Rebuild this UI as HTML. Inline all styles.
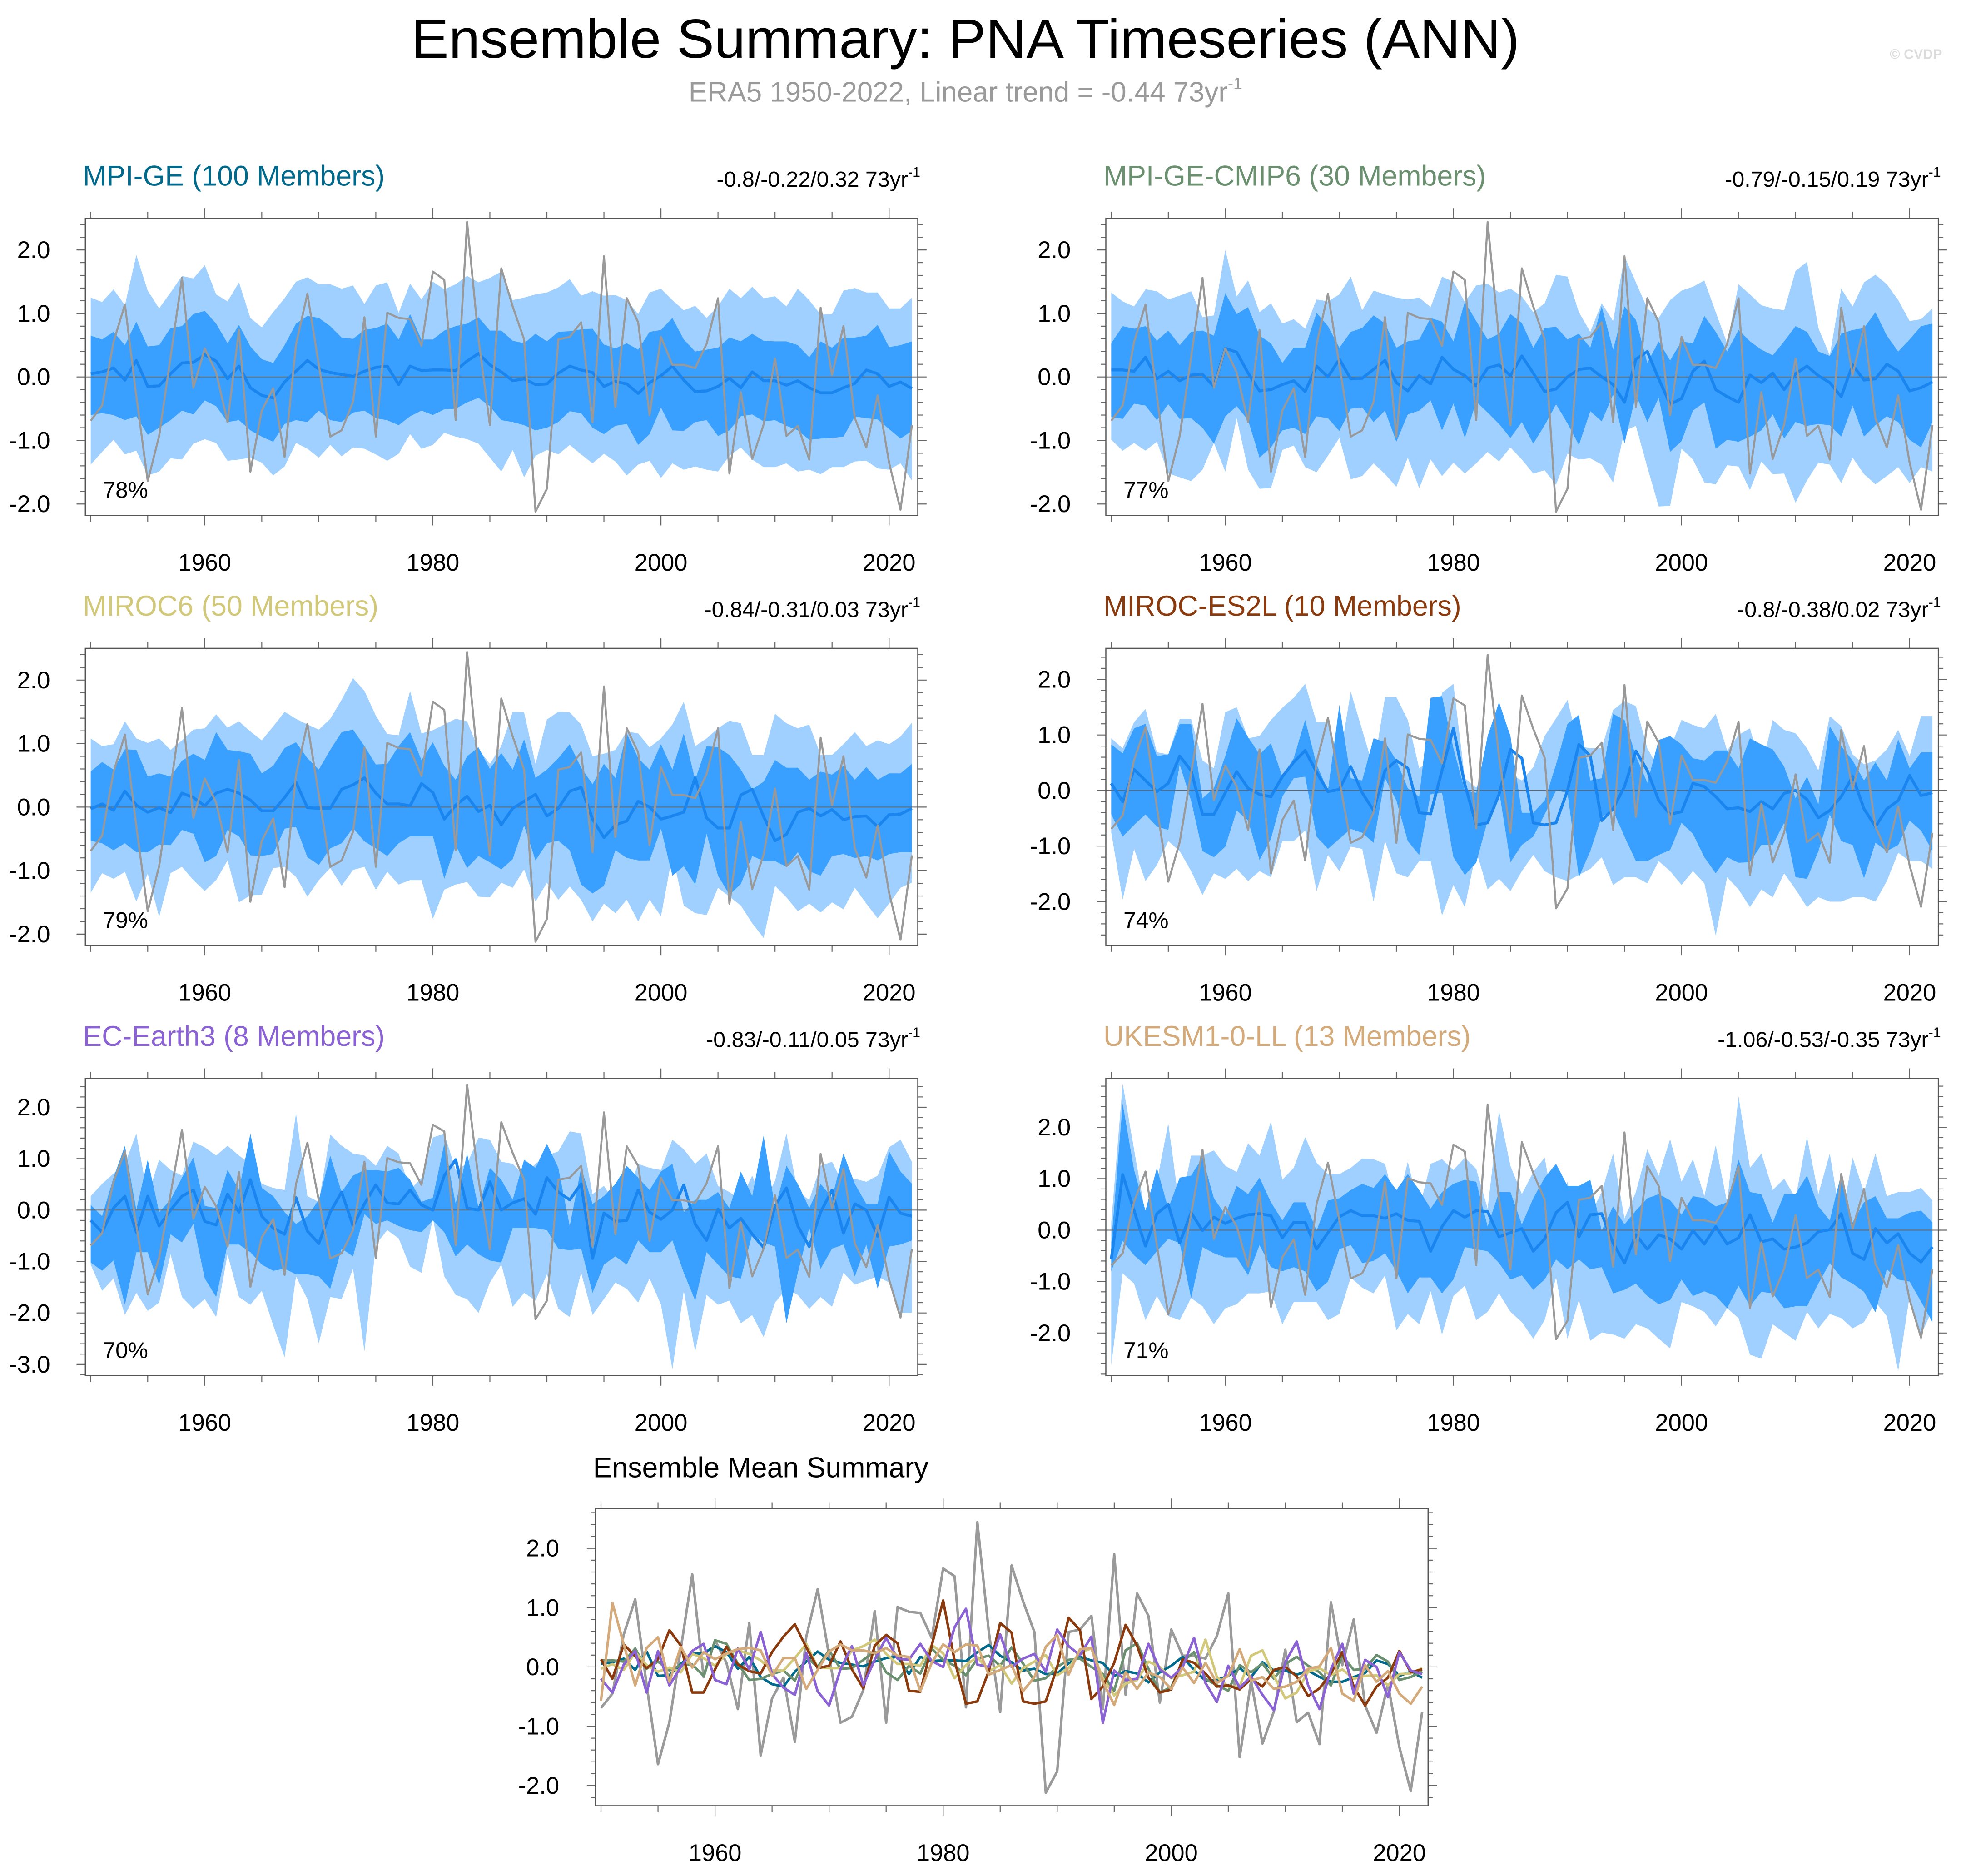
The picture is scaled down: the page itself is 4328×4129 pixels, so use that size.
<!DOCTYPE html>
<html>
<head>
<meta charset="utf-8">
<style>
html,body{margin:0;padding:0;background:#fff;}
svg{display:block;}
text{font-family:"Liberation Sans",Arial,sans-serif;}
</style>
</head>
<body>
<svg id="chart" xmlns="http://www.w3.org/2000/svg" width="4328" height="4129" viewBox="0 0 1568 1496">
<rect x="0" y="0" width="1568" height="1496" fill="#ffffff"/>
<text x="770" y="46" text-anchor="middle" font-size="44" textLength="884" lengthAdjust="spacingAndGlyphs" fill="#000">Ensemble Summary: PNA Timeseries (ANN)</text>
<text x="770" y="81" text-anchor="middle" font-size="22.4" fill="#9a9a9a">ERA5 1950-2022, Linear trend = -0.44 73yr<tspan font-size="13" dy="-10">-1</tspan></text>
<text x="1549" y="47" text-anchor="end" font-size="11" font-weight="bold" fill="#dcdcdc">© CVDP</text>
<g id="panels"></g>
</svg>
<script>
// ---------- DATA (1950-2022, 73 annual values) ----------
const firstYear = 1950;
const xTickYears = [1960, 1980, 2000, 2020];
const era5 = [-0.69,-0.45,0.55,1.14,-0.3,-1.64,-0.93,0.31,1.56,-0.17,0.45,0.07,-0.71,0.74,-1.49,-0.53,-0.18,-1.26,0.51,1.31,0.19,-0.94,-0.84,-0.39,0.94,-0.94,1.01,0.93,0.91,0.49,1.66,1.53,-0.68,2.44,0.6,-0.76,1.71,1.11,0.59,-2.12,-1.76,0.59,0.63,0.86,-0.71,1.9,-0.47,1.24,0.86,-0.6,0.63,0.19,0.19,0.14,0.52,1.24,-1.52,-0.24,-1.29,-0.75,0.29,-0.93,-0.77,-1.3,1.09,0.03,0.8,-0.65,-1.11,-0.29,-1.35,-2.09,-0.76];

// MPI-GE
const p1Hi = [1.25,1.18,1.38,1.13,1.92,1.36,1.08,1.33,1.59,1.55,1.76,1.3,1.19,1.49,0.93,0.78,1.02,1.24,1.5,1.57,1.46,1.46,1.39,1.44,1.15,1.44,1.49,1.01,1.47,1.22,1.5,1.38,1.46,1.59,1.49,1.56,1.66,1.21,1.25,1.3,1.33,1.41,1.54,1.28,1.35,1.28,1.29,1.21,0.99,1.33,1.39,1.21,1.05,1.12,0.93,1.11,1.39,1.24,1.42,1.24,1.27,1.11,1.39,1.21,0.98,0.99,1.36,1.4,1.33,1.33,1.08,1.08,1.25];
const p1Q3 = [0.65,0.59,0.71,0.5,0.87,0.48,0.5,0.77,0.8,0.99,1.04,0.84,0.53,0.82,0.48,0.28,0.22,0.5,0.84,0.96,0.93,0.8,0.62,0.6,0.74,0.77,0.84,0.59,0.99,0.59,0.59,0.73,0.8,0.84,0.94,0.73,0.73,0.57,0.53,0.68,0.56,0.71,0.72,0.75,0.76,0.51,0.45,0.53,0.43,0.71,0.74,0.93,0.59,0.4,0.43,0.46,0.62,0.56,0.68,0.57,0.56,0.56,0.5,0.31,0.56,0.46,0.62,0.62,0.65,0.82,0.47,0.5,0.56];
const p1Mean = [0.05,0.08,0.14,-0.05,0.26,-0.15,-0.14,0.05,0.22,0.23,0.35,0.25,-0.03,0.17,-0.17,-0.29,-0.33,-0.08,0.09,0.26,0.12,0.07,0.04,0.01,0.09,0.15,0.17,-0.12,0.17,0.1,0.11,0.11,0.1,0.25,0.37,0.19,0.08,-0.06,-0.03,-0.12,-0.11,0.06,0.17,0.11,0.07,-0.15,-0.07,-0.11,-0.26,-0.09,0.02,0.17,-0.05,-0.23,-0.22,-0.15,-0.02,-0.17,0.08,-0.06,-0.06,-0.13,-0.06,-0.17,-0.25,-0.25,-0.17,-0.1,0.11,0.05,-0.15,-0.08,-0.18];
const p1Q1 = [-0.6,-0.57,-0.6,-0.68,-0.62,-0.91,-0.8,-0.68,-0.53,-0.59,-0.37,-0.46,-0.71,-0.68,-0.84,-0.94,-1.02,-0.74,-0.68,-0.71,-0.53,-0.68,-0.71,-0.56,-0.53,-0.65,-0.68,-0.76,-0.62,-0.53,-0.6,-0.51,-0.5,-0.4,-0.33,-0.46,-0.68,-0.71,-0.76,-0.84,-0.8,-0.71,-0.54,-0.57,-0.8,-0.9,-0.77,-0.74,-1.07,-0.9,-0.48,-0.84,-0.85,-0.71,-0.68,-0.93,-0.84,-0.62,-0.59,-0.7,-0.68,-0.77,-0.84,-0.99,-0.97,-0.96,-0.94,-0.62,-0.65,-0.67,-0.82,-0.97,-0.85];
const p1Lo = [-1.38,-1.18,-0.99,-1.22,-1.16,-1.55,-1.49,-1.28,-1.3,-1.05,-0.98,-1.04,-1.32,-1.3,-1.27,-1.35,-1.55,-1.41,-1.04,-1.13,-1.27,-1.07,-1.25,-1.11,-1.13,-1.22,-1.32,-1.21,-0.9,-1.13,-1.07,-0.88,-0.94,-0.98,-1.05,-1.27,-1.49,-1.15,-1.58,-1.24,-1.15,-1.22,-1.07,-1.22,-1.36,-1.21,-1.33,-1.55,-1.38,-1.32,-1.59,-1.36,-1.46,-1.41,-1.46,-1.49,-1.24,-1.11,-1.3,-1.42,-1.42,-1.36,-1.49,-1.46,-1.53,-1.42,-1.42,-1.33,-1.32,-1.44,-1.46,-1.36,-1.63];

// MPI-GE-CMIP6
const p2Hi = [1.33,1.19,1.11,1.38,1.35,1.22,1.28,1.35,0.94,0.97,2.0,1.27,1.52,1.02,1.16,0.84,0.91,0.76,1.22,1.19,1.3,1.58,1.05,1.36,1.3,1.25,1.22,1.25,1.1,1.58,1.5,1.18,1.44,1.47,1.33,1.39,1.27,1.02,1.16,1.61,1.58,1.02,0.71,1.16,0.88,1.9,1.49,1.08,0.93,1.21,1.36,1.42,1.52,1.02,0.53,1.46,1.3,1.13,1.08,1.05,1.67,1.81,0.77,0.34,1.39,1.11,1.49,1.61,1.46,1.21,0.88,0.91,1.08];
const p2Q3 = [0.53,0.8,0.76,0.8,0.57,0.73,0.5,0.71,0.73,0.65,1.32,0.99,1.1,0.65,0.53,0.22,0.46,0.46,1.01,0.8,0.46,0.71,0.77,0.97,0.84,0.46,0.56,0.59,0.93,0.87,0.56,1.18,0.88,0.59,0.68,0.99,0.85,0.46,0.77,0.79,0.59,0.68,0.46,1.11,0.43,1.11,0.9,0.22,0.56,0.26,0.56,0.53,0.96,0.71,0.4,0.74,0.56,0.43,0.34,0.56,0.8,0.71,0.4,0.33,0.68,0.74,0.77,1.02,0.65,0.4,0.59,0.8,0.84];
const p2Mean = [0.11,0.11,0.09,0.31,-0.03,0.09,-0.06,0.03,0.04,-0.15,0.45,0.39,0.06,-0.22,-0.2,-0.12,-0.06,-0.23,0.17,0,0.28,-0.03,-0.02,0.12,0.26,-0.09,-0.22,0.02,-0.11,0.31,0.12,0.02,-0.14,0.14,0.19,0.02,0.33,0.06,-0.23,-0.19,0,0.12,0.14,0,-0.12,-0.4,0.28,0.4,-0.03,-0.43,-0.34,0.09,0.25,-0.2,-0.31,-0.4,0.03,-0.09,0.06,-0.2,0.05,0.17,0.02,-0.09,-0.31,0.19,-0.05,-0.03,0.2,0.09,-0.22,-0.17,-0.08];
const p2Q1 = [-0.63,-0.66,-0.42,-0.45,-0.68,-0.43,-0.66,-0.65,-0.8,-1.05,-0.62,-0.46,-0.68,-1.27,-1.11,-0.84,-0.8,-0.9,-0.62,-0.65,-0.85,-0.5,-0.48,-0.71,-0.53,-1.02,-0.59,-0.53,-0.37,-0.84,-0.42,-0.96,-0.39,-0.56,-0.74,-0.96,-0.71,-1.05,-0.76,-0.43,-0.73,-1.07,-0.54,-0.7,-0.28,-1.05,-0.28,-0.71,-0.33,-1.18,-1.01,-0.53,-0.4,-1.13,-0.99,-1.02,-0.94,-0.84,-0.59,-0.97,-0.71,-0.77,-0.74,-0.76,-0.94,-0.45,-0.94,-0.76,-0.62,-0.71,-0.99,-1.11,-0.71];
const p2Lo = [-0.99,-1.16,-1.04,-1.16,-1.02,-1.52,-1.58,-1.64,-1.46,-1.04,-1.49,-0.65,-1.46,-1.76,-1.75,-1.15,-1.08,-1.42,-1.5,-1.24,-0.96,-1.61,-1.56,-1.36,-1.53,-1.73,-1.27,-1.75,-1.3,-1.56,-1.35,-1.52,-1.36,-1.18,-1.33,-1.11,-1.3,-1.52,-1.47,-1.7,-1.21,-1.3,-1.28,-1.38,-1.66,-0.85,-0.77,-1.42,-2.04,-2.03,-1.13,-1.3,-1.66,-1.69,-1.39,-1.41,-1.78,-1.33,-1.53,-1.52,-1.98,-1.63,-1.35,-1.38,-1.67,-1.27,-1.53,-1.69,-1.56,-1.42,-1.67,-1.42,-1.49];

// MIROC6
const p3Hi = [1.08,0.96,0.99,1.35,1.08,1.01,1.08,0.9,1.05,1.22,1.24,1.46,1.25,1.35,1.19,1.05,1.27,1.5,1.39,1.3,1.22,1.39,1.69,2.03,1.83,1.44,1.15,1.13,1.83,1.16,1.21,1.3,1.39,1.35,0.91,0.68,0.96,1.5,1.49,0.68,1.38,1.5,1.49,1.3,0.8,0.84,0.9,1.19,1.16,0.94,1.08,1.3,1.66,0.96,1.08,1.24,1.36,1.32,0.82,0.82,1.47,1.32,1.24,1.3,0.82,0.82,0.99,1.18,0.96,1.05,0.99,1.11,1.33];
const p3Q3 = [0.56,0.71,0.59,0.91,0.9,0.48,0.53,0.48,0.73,0.84,0.74,1.18,0.9,0.88,0.84,0.53,0.65,0.93,1.02,0.77,0.59,0.9,1.18,1.22,0.96,0.67,0.68,0.96,1.18,0.74,1.02,0.65,0.43,0.8,0.94,0.6,0.85,0.59,1.07,0.46,0.59,0.77,0.99,0.62,0.36,0.68,0.46,1.16,0.77,0.59,0.99,0.59,1.16,0.43,0.96,0.94,0.82,0.59,0.28,0.4,0.74,0.62,0.62,0.43,0.56,0.51,0.65,0.43,0.63,0.43,0.53,0.53,0.68];
const p3Mean = [-0.03,0.05,-0.05,0.25,0.03,-0.08,-0.01,-0.09,0.22,0.15,0.02,0.22,0.28,0.22,0.11,-0.06,-0.06,0.15,0.39,-0.01,-0.02,-0.02,0.28,0.35,0.46,0.22,0.05,0.05,0.02,0.37,0.23,-0.19,0.03,0.17,-0.07,0.03,-0.28,-0.02,0.09,0.2,-0.14,-0.02,0.25,0.31,-0.19,-0.48,-0.28,-0.22,0.09,0,-0.19,-0.14,-0.08,0.46,-0.17,-0.33,-0.33,0.19,0.28,-0.15,-0.53,-0.43,-0.08,-0.02,-0.14,-0.04,-0.2,-0.15,-0.14,-0.31,-0.12,-0.11,-0.02];
const p3Q1 = [-0.53,-0.57,-0.68,-0.57,-0.71,-0.71,-0.59,-0.6,-0.36,-0.42,-0.87,-0.77,-0.36,-0.46,-0.76,-0.77,-0.74,-0.34,-0.31,-0.79,-0.91,-0.65,-0.57,-0.33,-0.54,-0.65,-0.77,-0.57,-0.46,-0.46,-0.46,-1.13,-0.6,-0.96,-0.77,-0.87,-0.98,-0.82,-0.29,-0.84,-0.57,-0.53,-0.68,-1.22,-1.36,-1.24,-0.68,-0.8,-0.84,-0.84,-0.34,-1.08,-0.93,-1.22,-0.42,-1.08,-1.38,-1.21,-0.77,-0.85,-0.85,-0.94,-0.71,-1.01,-1.08,-0.77,-0.74,-0.8,-0.77,-0.84,-0.74,-0.71,-0.71];
const p3Lo = [-1.35,-1.04,-1.13,-1.02,-1.49,-1.05,-1.73,-1.04,-0.94,-1.15,-1.32,-1.15,-0.84,-1.5,-1.39,-1.38,-0.96,-0.94,-1.1,-1.41,-1.15,-0.96,-1.24,-0.99,-0.94,-1.3,-1.02,-1.22,-1.15,-1.15,-1.76,-1.3,-1.22,-1.18,-1.41,-1.42,-1.19,-1.27,-0.98,-1.49,-1.19,-1.46,-1.25,-1.46,-1.8,-1.52,-1.67,-1.46,-1.8,-1.46,-1.72,-0.76,-1.55,-1.67,-1.7,-1.27,-1.41,-1.55,-1.83,-2.06,-1.24,-1.42,-1.64,-1.52,-1.66,-1.5,-1.61,-1.27,-1.52,-1.75,-1.52,-1.27,-1.19];

// MIROC-ES2L
const p4Hi = [0.94,0.76,1.23,1.47,0.69,0.65,1.29,1.29,0.54,0.4,1.41,1.5,0.94,0.98,1.27,1.49,1.67,1.92,1.23,1.23,0.54,1.78,1.09,0.4,1.68,1.68,1.27,0.4,0.54,1.76,1.92,0.22,0.05,0.47,0.02,0.29,0.18,0.42,0.98,1.3,1.63,0.8,0.76,0.76,1.45,1.61,1.52,0.76,0.4,0.76,1.27,1.18,1.12,1.38,0.72,1.0,1.12,0.4,1.27,1.09,1.03,0.76,0.36,1.34,1.16,0.65,0.47,0.54,0.74,1.09,0.62,1.34,1.34];
const p4Q3 = [0.83,0.67,1.12,1.2,0.62,0.65,1.2,1.2,-0.14,0.04,0.62,1.3,0.96,0.65,0.85,0.25,0.58,1.27,0.47,0,1.54,0.22,0.18,0.94,0.87,0.54,0.04,-0.11,1.67,1.7,0.76,0,-0.04,0.98,1.59,0.98,-0.4,-0.4,-0.18,0.47,1.2,1.36,0.18,0.22,1.38,1.27,0.62,0.14,0.91,0.98,0.83,0.58,0.54,0.72,0.72,0.4,0.94,0.83,0.74,0.43,-0.14,0.25,-0.25,1.16,0.8,0.54,0.18,0.51,0.18,0.92,0.4,0.69,0.69];
const p4Mean = [0.13,-0.2,0.38,0.18,-0.02,0.13,0.62,0.36,-0.43,-0.43,-0.04,0.34,0.04,-0.07,-0.11,0.25,0.51,0.72,0.33,-0.02,0.02,0.43,-0.04,-0.36,0.36,0.54,0.4,-0.4,-0.42,0.36,1.12,0.11,-0.62,-0.58,-0.07,0.74,0.58,-0.58,-0.62,-0.58,0,0.83,0.62,-0.54,-0.33,0.07,0.71,0.36,-0.18,-0.43,-0.38,0.13,0.07,-0.11,-0.33,-0.31,-0.38,-0.2,-0.33,-0.05,0,-0.16,-0.49,-0.36,-0.11,0.25,-0.33,-0.65,-0.33,-0.18,0.27,-0.09,-0.04];
const p4Q1 = [-0.43,-0.83,-0.62,-0.43,-0.65,-0.71,0.47,-0.18,-1.09,-1.2,-1.01,-0.36,-0.54,-1.25,-0.87,-0.11,0.22,0.25,-0.83,-1.05,-0.87,-0.69,-0.76,-0.94,0.22,-0.18,-0.91,-1.16,-0.07,-0.04,-1.2,-1.52,-1.3,-0.54,0,-1.29,-0.98,-0.83,-0.43,0,-0.04,-1.56,-1.09,-0.47,-0.36,-0.83,-1.27,-1.27,-1.16,-1.07,-0.58,-0.78,-1.2,-1.49,-1.2,-1.3,-1.29,-0.98,-0.98,-0.58,-1.56,-1.59,-1.09,-0.43,-0.91,-0.98,-1.58,-0.94,-1.09,-0.98,-0.54,-0.72,-1.09];
const p4Lo = [-0.76,-1.96,-1.05,-1.63,-1.34,-0.91,-1.09,-1.45,-1.88,-1.49,-1.59,-1.41,-1.63,-1.45,-1.56,-0.91,-0.91,-0.72,-1.81,-1.16,-1.45,-1.01,-1.05,-2.0,-0.91,-1.49,-1.56,-1.27,-1.27,-2.25,-1.7,-2.1,-1.09,-1.78,-1.59,-1.81,-1.45,-1.16,-1.45,-1.56,-1.63,-1.52,-1.41,-1.2,-1.7,-1.56,-1.56,-1.67,-1.27,-1.45,-1.7,-1.45,-1.67,-2.61,-1.56,-1.78,-2.1,-1.78,-1.92,-1.49,-1.78,-2.1,-1.92,-2.0,-2.0,-1.92,-1.92,-2.0,-1.63,-1.12,-1.27,-1.27,-1.41];

// EC-Earth3
const p5Hi = [0.27,0.51,0.71,0.9,1.49,0.27,0.98,0.78,0.67,1.33,1.22,1.06,1.25,1.06,0.9,0.51,0.43,0.39,1.88,0.27,0.16,1.47,1.25,1.1,1.06,0.86,1.25,1.1,0.39,0.63,1.41,1.49,0.78,0.9,1.41,1.37,0.94,0.9,0.67,0.9,1.06,1.14,1.53,1.49,0.31,0.47,0.12,0.27,0.9,0.82,0.78,1.37,1.18,0.9,1.1,0.47,0.35,0.2,0.67,0.12,0.57,1.49,0.35,0.2,0.86,0.94,0.49,0.61,0.55,0.67,1.22,1.37,0.94];
const p5Q3 = [0.1,-0.12,0.63,1.25,0,0.98,-0.04,0.2,0.63,1.02,0.08,0.04,0.78,0.39,1.49,0.43,0.27,-0.04,-0.27,-0.12,0.2,1.06,0.35,0.67,0.78,0.78,0.75,0.82,0.59,0.16,0.24,1.29,0.12,1.1,0.04,0.82,0.59,0.2,0.98,0.82,1.29,0.82,-0.31,0.82,0.12,0.27,0.51,0.86,0.63,0.39,0.75,0.9,-0.04,0.2,0.2,0.35,0.04,0.75,0.27,1.45,0.04,0.86,0.51,0.04,0.51,0.24,1.1,0.51,0.12,0.12,1.14,0.75,0.51];
const p5Mean = [-0.2,-0.43,0.04,0.27,-0.43,0.27,-0.31,0,0.27,0.39,-0.22,-0.29,0.31,-0.04,0.59,-0.12,-0.35,-0.47,0.24,-0.41,-0.65,-0.04,0.35,-0.31,0.12,0.49,0.14,0.12,0.39,0.1,0,0.67,0.98,0.04,0,0.55,0,0.14,0.22,-0.08,0.63,0.35,0.2,0.51,-0.94,-0.06,-0.22,-0.2,0.39,-0.04,-0.18,0,0.49,-0.27,-0.59,0.02,-0.35,-0.16,-0.47,-0.73,0.08,0.43,-0.31,-0.71,-0.04,0.39,-0.45,0.12,0,-0.51,0.25,-0.06,-0.12];
const p5Q1 = [-1.02,-1.18,-0.98,-1.84,-0.82,-0.82,-1.45,-0.47,-0.63,-0.27,-1.33,-1.69,-0.67,-0.67,-0.82,-1.06,-1.18,-1.14,-1.25,-1.25,-1.29,-1.53,-0.75,-0.9,-0.08,-0.27,-0.2,-0.31,-0.39,-0.43,-0.2,-0.43,-0.9,-0.67,-0.86,-0.98,-1.02,-0.35,-0.35,-0.35,-0.39,-0.75,-0.78,-0.75,-1.61,-1.06,-0.9,-1.06,-0.59,-0.82,-0.82,-0.59,-1.22,-1.76,-0.82,-1.06,-1.29,-1.33,-0.47,-0.63,-0.71,-2.2,-1.22,-0.35,-1.14,-0.75,-0.67,-1.29,-0.67,-1.53,-0.71,-0.67,-0.59];
const p5Lo = [-1.06,-1.57,-1.33,-2.04,-1.61,-1.96,-1.8,-0.86,-1.69,-1.92,-1.73,-2.08,-0.86,-1.69,-1.84,-1.57,-2.24,-2.86,-1.29,-1.73,-2.59,-1.69,-1.73,-1.14,-2.75,-0.67,-0.39,-0.55,-1.1,-1.22,-0.16,-1.29,-1.65,-1.73,-2.0,-1.41,-1.06,-1.88,-1.61,-1.76,-1.25,-1.92,-2.08,-1.22,-2.04,-1.73,-1.41,-1.53,-1.8,-1.33,-1.84,-3.1,-1.57,-2.75,-1.65,-1.84,-1.76,-2.2,-2.04,-2.47,-1.8,-1.53,-1.65,-1.92,-1.69,-1.88,-1.22,-1.45,-1.37,-1.29,-1.41,-2.0,-2.0];

// UKESM1-0-LL
const p6Hi = [0.15,2.85,1.57,0.3,0.94,2.08,0.42,1.45,1.45,1.55,1.25,1.13,1.69,1.45,2.11,0.98,1.21,1.81,1.31,1.09,1.09,1.21,1.39,1.38,1.29,0.42,1.33,0.42,1.29,1.38,1.17,1.41,1.19,0.42,2.32,1.25,0.7,1.13,1.41,0.19,0.94,-0.29,0.3,0.74,1.49,0.23,0.74,1.57,1.06,1.77,0.94,1.38,0.66,1.65,0.54,2.6,1.21,1.49,0.78,1.0,0.62,1.81,0.7,1.49,0.15,1.41,0.74,1.49,0.66,0.74,0.74,0.82,0.58];
const p6Q3 = [-0.25,2.46,1.17,0.38,1.21,0.42,1.02,1.06,1.41,0.62,0.3,0.86,0.7,1.02,0.54,0.19,0.54,0.54,-0.01,0.58,0.62,0.78,0.9,0.82,1.09,0.78,1.09,0.78,0.42,0.74,0.9,0.98,0.94,0.07,0.74,0.74,0.11,0.62,1.02,1.29,0.86,0.86,0.98,-0.01,0.46,0.11,0.38,0.62,0.7,0.58,0.3,0.66,0.62,0.46,0.54,1.37,0.74,0.7,0.15,0.7,0.7,1.06,0.46,0.19,1.09,0.15,0.54,0.66,0.23,0.23,0.34,0.38,0.15];
const p6Mean = [-0.57,1.08,0.38,-0.31,0.32,0.5,-0.25,0.34,-0.01,0.25,0.13,0.23,0.3,0.32,0.28,-0.15,0.15,0.15,-0.37,-0.05,0.26,0.38,0.28,0.28,0.23,0.32,0.19,0.17,-0.41,0.07,0.38,0.25,0.38,0.36,-0.13,-0.05,0.03,-0.41,-0.17,0.34,0.54,-0.13,0.3,0.32,-0.25,-0.64,-0.09,-0.37,-0.09,-0.17,-0.37,-0.01,-0.27,0.07,-0.27,-0.15,0.3,-0.23,-0.17,-0.37,-0.33,-0.25,-0.03,0.01,0.32,-0.45,-0.57,0.03,-0.25,-0.07,-0.45,-0.62,-0.33];
const p6Q1 = [-0.8,-0.21,-0.49,-0.68,-0.41,-0.17,-0.25,-1.32,-0.33,-0.45,-0.53,-0.53,-0.88,-0.29,-0.72,-0.8,-0.72,-0.8,-1.19,-1.0,-0.37,-0.29,-0.64,-0.6,-0.45,-0.8,-1.23,-0.92,-0.92,-1.23,-0.96,-0.33,-0.37,-0.41,-0.64,-0.96,-0.88,-1.16,-0.96,-0.57,-0.76,-0.57,-0.76,-0.72,-1.23,-1.16,-1.04,-1.28,-1.44,-1.36,-0.96,-1.28,-1.19,-1.28,-1.52,-1.08,-1.48,-1.2,-1.23,-1.52,-1.48,-1.48,-1.04,-0.64,-0.92,-1.04,-1.2,-1.6,-0.76,-0.96,-1.0,-1.39,-1.79];
const p6Lo = [-2.62,-0.84,-1.04,-1.75,-1.28,-1.67,-1.75,-1.32,-1.48,-1.83,-1.52,-1.44,-1.23,-1.23,-1.19,-1.83,-1.4,-1.4,-1.4,-1.75,-1.63,-0.92,-1.12,-1.23,-0.88,-1.95,-1.63,-1.83,-1.19,-2.03,-1.28,-1.08,-1.75,-1.59,-1.23,-1.59,-1.79,-2.11,-1.75,-0.92,-2.11,-1.36,-2.15,-1.99,-2.03,-2.11,-1.83,-1.91,-2.11,-2.3,-1.4,-1.48,-1.59,-1.87,-1.52,-1.71,-2.42,-2.5,-1.83,-1.99,-2.15,-1.59,-1.91,-1.63,-1.71,-1.91,-1.79,-1.4,-1.67,-2.74,-1.28,-2.03,-1.55];

// panel text
const modelNames = ["MPI-GE (100 Members)","MPI-GE-CMIP6 (30 Members)","MIROC6 (50 Members)","MIROC-ES2L (10 Members)","EC-Earth3 (8 Members)","UKESM1-0-LL (13 Members)"];
const trendLabels = ["-0.8/-0.22/0.32 73yr","-0.79/-0.15/0.19 73yr","-0.84/-0.31/0.03 73yr","-0.8/-0.38/0.02 73yr","-0.83/-0.11/0.05 73yr","-1.06/-0.53/-0.35 73yr"];
const pctLabels = ["78%","77%","79%","74%","70%","71%"];

// ---------- LAYOUT ----------
const modelColors = ["#00698c","#6a9070","#d2c87a","#8a3a0c","#8a62d4","#d4aa7a"];
const panelW = 664, panelH = 237;
const layouts = [
  {left:68,  top:174, ymin:-2.18, ymax:2.5},
  {left:882, top:174, ymin:-2.18, ymax:2.5},
  {left:68,  top:517, ymin:-2.18, ymax:2.5},
  {left:882, top:517, ymin:-2.79, ymax:2.56},
  {left:68,  top:860, ymin:-3.22, ymax:2.56},
  {left:882, top:860, ymin:-2.83, ymax:2.95}
];
const series = [
  [p1Hi,p1Q3,p1Mean,p1Q1,p1Lo],
  [p2Hi,p2Q3,p2Mean,p2Q1,p2Lo],
  [p3Hi,p3Q3,p3Mean,p3Q1,p3Lo],
  [p4Hi,p4Q3,p4Mean,p4Q1,p4Lo],
  [p5Hi,p5Q3,p5Mean,p5Q1,p5Lo],
  [p6Hi,p6Q3,p6Mean,p6Q1,p6Lo]
];

const NS = "http://www.w3.org/2000/svg";
const root = document.getElementById("panels");
function el(tag, attrs, parent){
  const e = document.createElementNS(NS, tag);
  for (const k in attrs) e.setAttribute(k, attrs[k]);
  (parent||root).appendChild(e);
  return e;
}
function makeAxes(left, top, ymin, ymax){
  const yearStep = 9.097;
  const x0 = left + 4.3;
  return {
    x: function(i){ return x0 + i*yearStep; },
    xYear: function(yr){ return x0 + (yr-firstYear)*yearStep; },
    y: function(v){ return top + (ymax - v)/(ymax - ymin)*panelH; }
  };
}
function linePath(arr, ax){
  return arr.map(function(v,i){ return (i?"L":"M")+ax.x(i).toFixed(2)+" "+ax.y(v).toFixed(2); }).join(" ");
}
function bandPath(hi, lo, ax){
  let d = hi.map(function(v,i){ return (i?"L":"M")+ax.x(i).toFixed(2)+" "+ax.y(v).toFixed(2); }).join(" ");
  for (let i = lo.length-1; i >= 0; i--) d += " L"+ax.x(i).toFixed(2)+" "+ax.y(lo[i]).toFixed(2);
  return d + " Z";
}
function drawFrameAndTicks(g, left, top, ymin, ymax, ax, labelOffset){
  const bottom = top + panelH, right = left + panelW;
  const startV = Math.ceil(ymin*5-1e-6)/5;
  for (let v = startV; v <= ymax + 1e-6; v += 0.2) {
    const vv = Math.round(v*10)/10;
    const major = Math.abs(vv - Math.round(vv)) < 1e-6;
    const len = major ? 7 : 4;
    const yy = ax.y(vv);
    const tl = el("line",{x1:left-len,y1:yy,x2:left,y2:yy,stroke:"#666","stroke-width":0.8},g);
    
    
    const tr = el("line",{x1:right,y1:yy,x2:right+len,y2:yy,stroke:"#666","stroke-width":0.8},g);
    
    
    if (major) {
      const lab = el("text",{x:left-labelOffset,y:yy+6.5,"text-anchor":"end","font-size":19,fill:"#000"},g);
      lab.textContent = vv.toFixed(1);
      
      
    }
  }
  for (let yr = 1950; yr <= 2020; yr += 5) {
    const major = xTickYears.indexOf(yr) >= 0;
    const len = major ? 8 : 5;
    const xx = ax.xYear(yr);
    const tb = el("line",{x1:xx,y1:bottom,x2:xx,y2:bottom+len,stroke:"#666","stroke-width":0.8},g);
    
    
    const tt = el("line",{x1:xx,y1:top-len,x2:xx,y2:top,stroke:"#666","stroke-width":0.8},g);
    
    
  }
  xTickYears.forEach(function(yr){
    const t = el("text",{x:ax.xYear(yr),y:bottom+44,"text-anchor":"middle","font-size":19,fill:"#000"},g);
    t.textContent = String(yr);
    
    
  });
  const fr = el("rect",{x:left,y:top,width:panelW,height:panelH,fill:"none",stroke:"#555","stroke-width":0.9},g);
  
  
}

// ---------- MODEL PANELS ----------
layouts.forEach(function(L, p){
  const s = series[p];
  const ax = makeAxes(L.left, L.top, L.ymin, L.ymax);
  const g = el("g",{});
  
  

  const clipId = "clip"+p;
  const cp = el("clipPath",{id:clipId},g);
  el("rect",{x:L.left,y:L.top,width:panelW,height:panelH},cp);
  const inner = el("g",{"clip-path":"url(#"+clipId+")"},g);
  
  

  const outer = el("path",{d:bandPath(s[0], s[4], ax),fill:"#9fd0ff",stroke:"none"},inner);
  
  
  const innerBand = el("path",{d:bandPath(s[1], s[3], ax),fill:"#39a0ff",stroke:"none"},inner);
  
  
  const zl = el("line",{x1:L.left,y1:ax.y(0),x2:L.left+panelW,y2:ax.y(0),stroke:"#666","stroke-width":0.7},inner);
  
  
  const ml = el("path",{d:linePath(s[2], ax),fill:"none",stroke:"#1a85ee","stroke-width":2.3,"stroke-linejoin":"round"},inner);
  
  
  const ol = el("path",{d:linePath(era5, ax),fill:"none",stroke:"#999","stroke-width":1.6,"stroke-linejoin":"round"},inner);
  
  

  drawFrameAndTicks(g, L.left, L.top, L.ymin, L.ymax, ax, 28);

  const title = el("text",{x:L.left-2,y:L.top-26,"font-size":22.7,fill:modelColors[p]},g);
  title.textContent = modelNames[p];
  
  

  const tr = el("text",{x:L.left+panelW+2,y:L.top-25,"text-anchor":"end","font-size":17.5,fill:"#000"},g);
  tr.textContent = trendLabels[p];
  const sup = el("tspan",{"font-size":11,dy:-8},tr);
  sup.textContent = "-1";
  
  

  const pc = el("text",{x:L.left+14,y:L.top+panelH-14,"font-size":18,fill:"#000"},g);
  pc.textContent = pctLabels[p];
  
  
});

// ---------- ENSEMBLE MEAN SUMMARY ----------
(function(){
  const L = {left:475, top:1203, ymin:-2.34, ymax:2.67};
  const ax = makeAxes(L.left, L.top, L.ymin, L.ymax);
  const g = el("g",{});
  
  
  const cp = el("clipPath",{id:"clipSum"},g);
  el("rect",{x:L.left,y:L.top,width:panelW,height:panelH},cp);
  const inner = el("g",{"clip-path":"url(#clipSum)"},g);
  
  
  const zl = el("line",{x1:L.left,y1:ax.y(0),x2:L.left+panelW,y2:ax.y(0),stroke:"#666","stroke-width":0.7},inner);
  
  
  const ol = el("path",{d:linePath(era5, ax),fill:"none",stroke:"#9a9a9a","stroke-width":2,"stroke-linejoin":"round"},inner);
  
  
  series.forEach(function(s, p){
    const ln = el("path",{d:linePath(s[2], ax),fill:"none",stroke:modelColors[p],"stroke-width":2,"stroke-linejoin":"round"},inner);
    
    
  });
  drawFrameAndTicks(g, L.left, L.top, L.ymin, L.ymax, ax, 29);
  const t = el("text",{x:L.left-2,y:L.top-25,"font-size":22.7,fill:"#000"},g);
  t.textContent = "Ensemble Mean Summary";
  
  
})();
</script>
</body>
</html>
